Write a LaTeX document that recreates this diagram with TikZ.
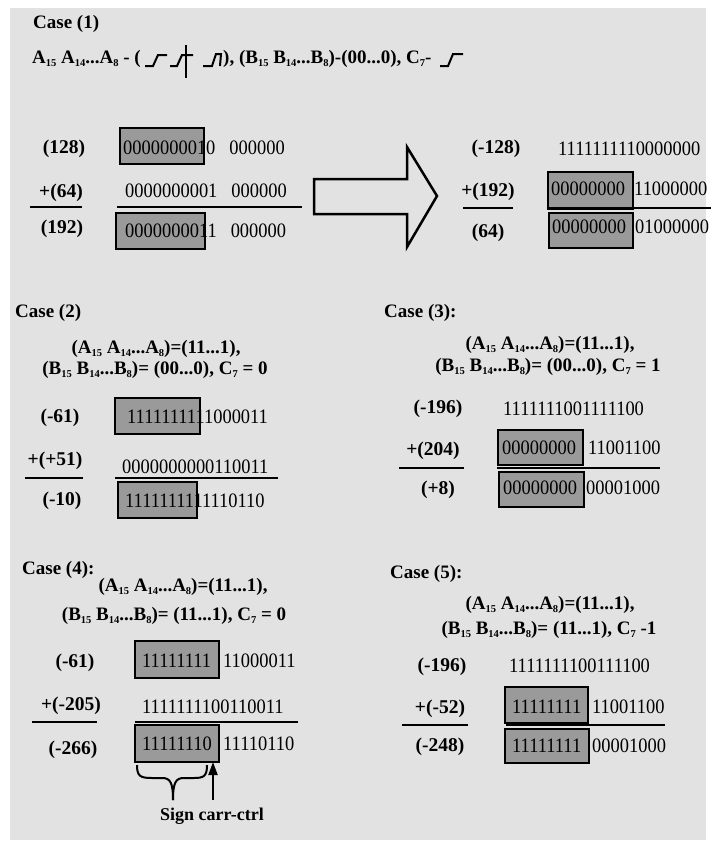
\documentclass[tikz,border=0pt]{standalone}
\usepackage{fontspec}
\setmainfont{Liberation Serif}
\newfontfamily\condserif[FakeStretch=0.9]{Liberation Serif}
\usetikzlibrary{arrows.meta}
\definecolor{panel}{HTML}{E2E2E2}
\definecolor{boxgray}{HTML}{9A9A9A}
\newcommand\sbs[1]{\raisebox{-0.35ex}{\fontsize{10.5}{10.5}\selectfont #1}}
\newcommand\nfnt{\condserif\fontsize{20.5}{20.5}\selectfont}
\newcommand\lfnt{\bfseries\fontsize{19.5}{19.5}\selectfont}
\newcommand\hfnt{\bfseries\fontsize{19}{19}\selectfont}
\tikzset{
  num/.style={font=\nfnt, anchor=base west, inner sep=0pt},
  lab/.style={font=\lfnt, anchor=base, inner sep=0pt},
  hd/.style={font=\hfnt, anchor=base west, inner sep=0pt},
  fm/.style={font=\hfnt, anchor=base, inner sep=0pt},
  bx/.style={draw, line width=2.5pt, fill=boxgray, anchor=north west, inner sep=0pt, outer sep=0pt},
  rulel/.style={line width=2.5pt},
  wave/.style={line width=2pt},
}
\begin{document}
\begin{tikzpicture}[x=1pt,y=-1pt]
\useasboundingbox (0,0) rectangle (714,846);
\fill[white] (0,0) rectangle (714,846);
\fill[panel] (10,8) rectangle (706,840);

% ---------- Case 1 ----------
\node[hd] (h1) at (33,28) {Case (1)};
\node[hd] (c1t1) at (32,63) {A\sbs{15} A\sbs{14}...A\sbs{8} - (};
\draw[wave] (145,66) -- (153,66) -- (158,55) -- (167,55);
\draw[wave] (170,66) -- (177,66) -- (182,55) -- (193,55);
\draw[wave] (186,45) -- (186,78);
\draw[wave] (203,66) -- (212,66) -- (216,54) -- (221,54) -- (220,66);
\node[hd] (c1t2) at (223,63) {), (B\sbs{15} B\sbs{14}...B\sbs{8})-(00...0), C\sbs{7}-};
\draw[wave] (440,66) -- (448,66) -- (453,54) -- (463,54);

\node[bx, minimum width=84pt, minimum height=36pt] (c1b1) at (120,128) {};
\node[bx, minimum width=89pt, minimum height=36pt] (c1b3) at (116,213) {};
\node[lab] (c1l1) at (64,153) {(128)};
\node[lab] (c1l2) at (61,197) {+(64)};
\node[lab] (c1l3) at (62,233) {(192)};
\node[num] (c1n1) at (123,154) {0000000010\hspace{14pt}000000};
\node[num] (c1n2) at (125,197) {0000000001\hspace{14pt}000000};
\node[num] (c1n3) at (125,237) {0000000011\hspace{14pt}000000};
\draw[rulel] (30,207) -- (82,207);
\draw[rulel] (117,207) -- (302,207);

\draw[line width=2.5pt] (314,179) -- (407,179) -- (407,147) -- (437,196) -- (407,247) -- (407,214) -- (314,214) -- cycle;

\node[bx, minimum width=85pt, minimum height=37pt] (c1rb2) at (548,172) {};
\node[bx, minimum width=84pt, minimum height=35pt] (c1rb3) at (549,213) {};
\node[lab] (c1rl1) at (496,153) {(-128)};
\node[lab] (c1rl2) at (488,196) {+(192)};
\node[lab] (c1rl3) at (488,237) {(64)};
\node[num] (c1rn1) at (558,155) {1111111110000000};
\node[num] (c1rn2a) at (551,195) {00000000};
\node[num] (c1rn2b) at (634,195) {11000000};
\node[num] (c1rn3a) at (552,233) {00000000};
\node[num] (c1rn3b) at (635,233) {01000000};
\draw[rulel] (463,208) -- (513,208);
\draw[rulel] (548,208) -- (711,208);

% ---------- Case 2 ----------
\node[hd] (h2) at (15,317) {Case (2)};
\node[fm] (c2f1) at (156,353) {(A\sbs{15} A\sbs{14}...A\sbs{8})=(11...1),};
\node[fm] (c2f2) at (155,374) {(B\sbs{15} B\sbs{14}...B\sbs{8})= (00...0), C\sbs{7} = 0};
\node[bx, minimum width=85pt, minimum height=36pt] (c2b1) at (115,398) {};
\node[bx, minimum width=79pt, minimum height=36pt] (c2b3) at (118,482) {};
\node[lab] (c2l1) at (60,422) {(-61)};
\node[lab] (c2l2) at (55,465) {+(+51)};
\node[lab] (c2l3) at (62,505) {(-10)};
\node[num] (c2n1) at (127,423) {1111111111000011};
\node[num] (c2n2) at (122,473) {0000000000110011};
\node[num] (c2n3) at (125,507) {1111111111110110};
\draw[rulel] (25,478) -- (83,478);
\draw[rulel] (115,478) -- (278,478);

% ---------- Case 3 ----------
\node[hd] (h3) at (384,317) {Case (3):};
\node[fm] (c3f1) at (550,349) {(A\sbs{15} A\sbs{14}...A\sbs{8})=(11...1),};
\node[fm] (c3f2) at (548,371) {(B\sbs{15} B\sbs{14}...B\sbs{8})= (00...0), C\sbs{7} = 1};
\node[bx, minimum width=85pt, minimum height=35pt] (c3b2) at (498,430) {};
\node[bx, minimum width=85pt, minimum height=35pt] (c3b3) at (499,472) {};
\node[lab] (c3l1) at (438,413) {(-196)};
\node[lab] (c3l2) at (433,455) {+(204)};
\node[lab] (c3l3) at (438,494) {(+8)};
\node[num] (c3n1) at (503,415) {1111111001111100};
\node[num] (c3n2a) at (502,454) {00000000};
\node[num] (c3n2b) at (588,454) {11001100};
\node[num] (c3n3a) at (503,494) {00000000};
\node[num] (c3n3b) at (586,494) {00001000};
\draw[rulel] (399,468) -- (464,468);
\draw[rulel] (497,468) -- (660,468);

% ---------- Case 4 ----------
\node[hd] (h4) at (22,574) {Case (4):};
\node[fm] (c4f1) at (183,591) {(A\sbs{15} A\sbs{14}...A\sbs{8})=(11...1),};
\node[fm] (c4f2) at (174,620) {(B\sbs{15} B\sbs{14}...B\sbs{8})= (11...1), C\sbs{7} = 0};
\node[bx, minimum width=84pt, minimum height=37pt] (c4b1) at (135,641) {};
\node[bx, minimum width=84pt, minimum height=37pt] (c4b3) at (135,725) {};
\node[lab] (c4l1) at (75,667) {(-61)};
\node[lab] (c4l2) at (71,710) {+(-205)};
\node[lab] (c4l3) at (73,754) {(-266)};
\node[num] (c4n1a) at (142,667) {11111111};
\node[num] (c4n1b) at (223,667) {11000011};
\node[num] (c4n2) at (142,713) {1111111100110011};
\node[num] (c4n3a) at (142,750) {11111110};
\node[num] (c4n3b) at (223,750) {11110110};
\draw[rulel] (32,722) -- (97,722);
\draw[rulel] (135,722) -- (298,722);
\draw[line width=2pt] (137,765) .. controls (137,776) and (140,778) .. (152,778) -- (162,778) .. controls (170,778) and (173,782) .. (173,800);
\draw[line width=2pt] (207,765) .. controls (207,776) and (204,778) .. (194,778) -- (184,778) .. controls (176,778) and (173,782) .. (173,800);
\node[font=\bfseries\fontsize{18}{18}\selectfont, anchor=base, inner sep=0pt] (sign) at (212,820) {Sign carr-ctrl};
\coordinate (sgtail) at (213,800);
\draw[line width=2pt, -{Triangle[width=9pt,length=13pt]}] (sgtail) -- (sgtail |- c4b3.south);

% ---------- Case 5 ----------
\node[hd] (h5) at (390,578) {Case (5):};
\node[fm] (c5f1) at (550,609) {(A\sbs{15} A\sbs{14}...A\sbs{8})=(11...1),};
\node[fm] (c5f2) at (549,634) {(B\sbs{15} B\sbs{14}...B\sbs{8})= (11...1), C\sbs{7} -1};
\node[bx, minimum width=83pt, minimum height=36pt] (c5b2) at (505,687) {};
\node[bx, minimum width=84pt, minimum height=34pt] (c5b3) at (505,729) {};
\node[lab] (c5l1) at (442,671) {(-196)};
\node[lab] (c5l2) at (440,713) {+(-52)};
\node[lab] (c5l3) at (440,751) {(-248)};
\node[num] (c5n1) at (509,672) {1111111100111100};
\node[num] (c5n2a) at (512,713) {11111111};
\node[num] (c5n2b) at (592,713) {11001100};
\node[num] (c5n3a) at (512,752) {11111111};
\node[num] (c5n3b) at (592,752) {00001000};
\draw[rulel] (402,725) -- (468,725);
\draw[rulel] (506,725) -- (665,725);
\end{tikzpicture}
\end{document}
